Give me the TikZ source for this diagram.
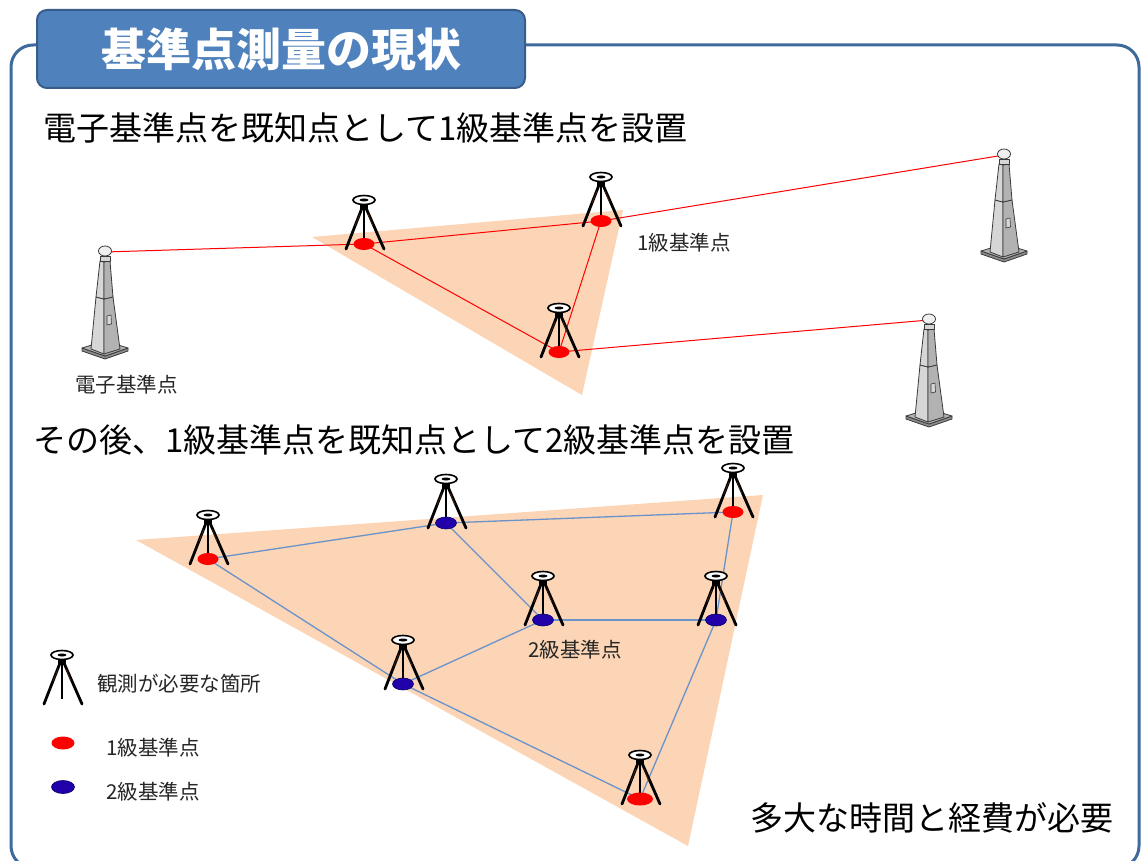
\documentclass[tikz,border=0pt]{standalone}
\usepackage{fontspec}
\setmainfont{Noto Sans CJK JP}
\usetikzlibrary{shapes.geometric}

\definecolor{framec}{HTML}{3F6A9C}
\definecolor{titlefill}{HTML}{4F81BD}
\definecolor{titleline}{HTML}{385D8A}
\definecolor{peach}{HTML}{FBD5B5}
\definecolor{netblue}{HTML}{6A92CB}
\definecolor{dotblue}{HTML}{2200AA}
\definecolor{pilline}{HTML}{3A3A3A}
\definecolor{pillight}{HTML}{D6D6D6}
\definecolor{pilmid}{HTML}{B2B2B2}
\definecolor{pildark}{HTML}{8C8C8C}
\definecolor{legbrown}{HTML}{5A2A10}

\pgfdeclarelayer{bg}
\pgfdeclarelayer{edges}
\pgfsetlayers{bg,edges,main}

\tikzset{
  heading/.style={anchor=west, inner sep=0pt, font=\fontsize{33}{36}\selectfont},
  small/.style={anchor=west, inner sep=0pt, text=black!85, font=\fontsize{20.5}{24}\selectfont},
  reddot/.style={ellipse, fill=red, minimum width=21pt, minimum height=12pt, inner sep=0pt},
  bluedot/.style={ellipse, fill=dotblue, draw=black!60!blue, line width=0.6pt,
                  minimum width=21pt, minimum height=12pt, inner sep=0pt},
  redline/.style={red, line width=1pt},
  blueline/.style={netblue, line width=1.3pt},
  % survey instrument on a tripod; origin at the foot point
  tripod/.pic={
    \draw[line width=2.8pt, black, line cap=round] (-2,-36) -- (-18,5);
    \draw[line width=2.8pt, black, line cap=round] (2,-36) -- (20,5);
    \draw[line width=0.5pt, legbrown] (-4,-30) -- (-9,-18);
    \draw[line width=0.5pt, legbrown] (4,-30) -- (9,-18);
    \draw[line width=2.2pt, black] (0,-38) -- (0,0);
    \fill[black] (-4,-41) rectangle (4,-35);
    \filldraw[fill=white, draw=black, line width=1.6pt] (0,-44) ellipse [x radius=11, y radius=4.5];
    \fill[black] (0,-44) ellipse [x radius=4.5, y radius=1.5];
  },
  % GNSS station pillar; origin at the top knob
  pillar/.pic={
    \begin{scope}[draw=pilline, line width=0.8pt, line join=round]
      \filldraw[fill=pildark] (-23,96) -- (0,104) -- (23,96) -- (23,99) -- (0,107) -- (-23,99) -- cycle;
      \filldraw[fill=pilmid] (-23,96) -- (0,89) -- (23,96) -- (0,104) -- cycle;
      \filldraw[fill=pillight] (-9,45) -- (-1,47) -- (-1,102) -- (-14,97) -- cycle;
      \filldraw[fill=pilmid] (-1,47) -- (8,45) -- (15,97) -- (-1,102) -- cycle;
      \filldraw[fill=pillight, line width=0.6pt] (2,64) -- (6,63) -- (6.5,72) -- (2,73) -- cycle;
      \filldraw[fill=pillight] (-5,9) -- (-1,10) -- (-1,47) -- (-9,45) -- cycle;
      \filldraw[fill=pilmid] (-1,10) -- (5,9) -- (8,45) -- (-1,47) -- cycle;
      \filldraw[fill=pillight] (-5,4) rectangle (5,9);
      \filldraw[fill=gray!12] (0,-1) ellipse [x radius=6.5, y radius=5];
    \end{scope}
  }
}

\begin{document}
\begin{tikzpicture}[x=1pt, y=-1pt]
\useasboundingbox (0,0) rectangle (1141,861);
\clip (0,0) rectangle (1141,861);

% shaded survey areas on the white sheet
\begin{pgfonlayer}{bg}
  \fill[white] (0,0) rectangle (1141,861);
  \fill[peach] (312,237) -- (623,210) -- (582,395) -- cycle;
  \fill[peach] (136,540) -- (763,495) -- (688,846) -- cycle;
\end{pgfonlayer}

% outer frame and title
\draw[framec, line width=3pt, rounded corners=22pt] (11,45) rectangle (1139,868);
\node[draw=titleline, fill=titlefill, line width=2pt, rounded corners=10pt,
      minimum width=488pt, minimum height=78pt, text=white,
      font=\bfseries\fontsize{45}{50}\selectfont] (title) at (281,49) {基準点測量の現状};

% headings
\node[heading] (h1) at (43,128) {電子基準点を既知点として1級基準点を設置};
\node[heading] (h2) at (33,440) {その後、1級基準点を既知点として2級基準点を設置};
\node[heading] (h3) at (750,818) {多大な時間と経費が必要};

% GNSS stations
\path (105,252) pic {pillar} coordinate (p1);
\path (1004,155) pic {pillar} coordinate (p2);
\path (929,320) pic {pillar} coordinate (p3);

% first-order points
\path (364,244) pic {tripod} node[reddot] (a1) {};
\path (601,221) pic {tripod} node[reddot] (a2) {};
\path (559,352) pic {tripod} node[reddot] (a3) {};

% second network
\path (208,559) pic {tripod} node[reddot] (b1) {};
\path (446,523) pic {tripod} node[bluedot] (b2) {};
\path (733,512) pic {tripod} node[reddot] (b3) {};
\path (543,620) pic {tripod} node[bluedot] (b4) {};
\path (716,620) pic {tripod} node[bluedot] (b5) {};
\path (403,684) pic {tripod} node[bluedot] (b6) {};
\path (640,799) pic {tripod} node[reddot, minimum width=26pt, minimum height=13pt] (b7) {};

% observation lines
\begin{pgfonlayer}{edges}
  \draw[redline] (p1) -- (a1.center);
  \draw[redline] (a1.center) -- (a2.center);
  \draw[redline] (a2.center) -- (p2);
  \draw[redline] (a1.center) -- (a3.center);
  \draw[redline] (a2.center) -- (a3.center);
  \draw[redline] (a3.center) -- (p3);
  \draw[blueline] (b1.center) -- (b2.center);
  \draw[blueline] (b2.center) -- (b3.center);
  \draw[blueline] (b1.center) -- (b6.center);
  \draw[blueline] (b2.center) -- (b4.center);
  \draw[blueline] (b4.center) -- (b5.center);
  \draw[blueline] (b4.center) -- (b6.center);
  \draw[blueline] (b3.center) -- (b5.center);
  \draw[blueline] (b5.center) -- (b7.center);
  \draw[blueline] (b6.center) -- (b7.center);
\end{pgfonlayer}

% labels
\node[small] (l1) at (637,243) {1級基準点};
\node[small] (l2) at (75,385) {電子基準点};
\node[small] (l3) at (528,650) {2級基準点};

% legend
\path (62,699) pic {tripod};
\node[small] (lg0) at (97,684) {観測が必要な箇所};
\node[reddot, minimum width=23pt, minimum height=13pt] (lgr) at (63,743) {};
\node[small] (lg1) at (106,748) {1級基準点};
\node[bluedot, minimum width=23pt, minimum height=13pt] (lgb) at (63,787) {};
\node[small] (lg2) at (106,792) {2級基準点};
\end{tikzpicture}
\end{document}
